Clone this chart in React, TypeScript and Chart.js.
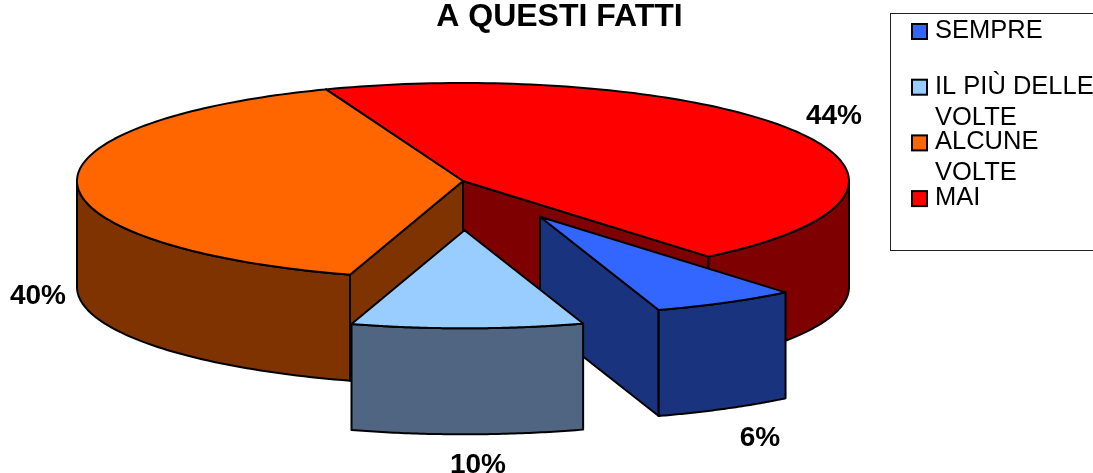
import React, { useEffect, useRef } from "react";
import { Chart, registerables } from "chart.js";

Chart.register(...registerables);

const categories = ["SEMPRE", "IL PIÙ DELLE VOLTE", "ALCUNE VOLTE", "MAI"];
const legendLines = [["SEMPRE"], ["IL PIÙ DELLE", "VOLTE"], ["ALCUNE", "VOLTE"], ["MAI"]];
const values = [6.0, 9.7, 39.5, 44.8];
const percentLabels = ["6%", "10%", "40%", "44%"];
const topColors = ["#3366FF", "#99CCFF", "#FF6600", "#FF0000"];
const sideColors = ["#19337F", "#4F6582", "#7F3300", "#7F0000"];
const sliceOffsets = [180, 218, 0, 0];
const drawOrder = [3, 2, 0, 1];
const titleText = "A QUESTI FATTI";
const labelPositions = [
  [760, 438],
  [478, 465],
  [38, 296],
  [834, 116],
];
const FONT = '"Liberation Sans", Arial, sans-serif';
const PIE = { cx: 463, cy: 181, rx: 386, ry: 98, depth: 106 };
const LEGEND = { x: 890, y: 13, w: 210, h: 237, box: 15, boxX: 912, textX: 935, firstBaseline: 38, itemGap: 55.7, lineGap: 31 };

const pie3d = {
  id: "pie3d",
  beforeDatasetDraw(chart: any, args: any) {
    const ctx = chart.ctx;
    const arcs = chart.getDatasetMeta(args.index).data;
    const at = (el: any, a: number) => {
      const r = el.outerRadius;
      const mid = (el.startAngle + el.endAngle) / 2;
      const off = (el.options.offset || 0) / 4 / r;
      return {
        ox: PIE.cx + PIE.rx * off * Math.cos(mid),
        oy: PIE.cy + PIE.ry * off * Math.sin(mid),
        x: PIE.cx + PIE.rx * off * Math.cos(mid) + PIE.rx * Math.cos(a),
        y: PIE.cy + PIE.ry * off * Math.sin(mid) + PIE.ry * Math.sin(a),
      };
    };
    ctx.save();
    ctx.lineJoin = "round";
    ctx.lineWidth = 2;
    ctx.strokeStyle = "#000";
    const paint = (fill: string) => {
      ctx.closePath();
      ctx.fillStyle = fill;
      ctx.fill();
      ctx.stroke();
    };
    const wall = (el: any, a: number, fill: string) => {
      const p = at(el, a);
      ctx.beginPath();
      ctx.moveTo(p.ox, p.oy);
      ctx.lineTo(p.x, p.y);
      ctx.lineTo(p.x, p.y + PIE.depth);
      ctx.lineTo(p.ox, p.oy + PIE.depth);
      paint(fill);
    };
    for (const i of drawOrder) {
      const el = arcs[i];
      const a0 = el.startAngle;
      const a1 = el.endAngle;
      if (-Math.cos(a0) > 0) wall(el, a0, sideColors[i]);
      if (Math.cos(a1) > 0) wall(el, a1, sideColors[i]);
      for (let k = -1; k <= 1; k++) {
        const s = Math.max(a0, 2 * Math.PI * k);
        const e = Math.min(a1, Math.PI + 2 * Math.PI * k);
        if (e <= s) continue;
        ctx.beginPath();
        const n = 60;
        for (let t = 0; t <= n; t++) {
          const p = at(el, s + ((e - s) * t) / n);
          if (t === 0) ctx.moveTo(p.x, p.y);
          else ctx.lineTo(p.x, p.y);
        }
        for (let t = n; t >= 0; t--) {
          const p = at(el, s + ((e - s) * t) / n);
          ctx.lineTo(p.x, p.y + PIE.depth);
        }
        paint(sideColors[i]);
      }
      const c = at(el, a0);
      ctx.beginPath();
      ctx.moveTo(c.ox, c.oy);
      const n = 120;
      for (let t = 0; t <= n; t++) {
        const p = at(el, a0 + ((a1 - a0) * t) / n);
        ctx.lineTo(p.x, p.y);
      }
      paint(topColors[i]);
    }
    ctx.restore();
    return false;
  },
  afterDraw(chart: any) {
    const ctx = chart.ctx;
    ctx.save();
    ctx.fillStyle = "#000";
    ctx.textAlign = "center";
    ctx.textBaseline = "middle";
    ctx.font = `bold 28px ${FONT}`;
    percentLabels.forEach((text, i) => {
      ctx.fillText(text, labelPositions[i][0], labelPositions[i][1]);
    });
    ctx.strokeStyle = "#222";
    ctx.lineWidth = 1;
    ctx.strokeRect(LEGEND.x + 0.5, LEGEND.y + 0.5, LEGEND.w, LEGEND.h);
    ctx.textAlign = "left";
    ctx.textBaseline = "alphabetic";
    ctx.font = `25.5px ${FONT}`;
    legendLines.forEach((lines, i) => {
      const base = LEGEND.firstBaseline + i * LEGEND.itemGap;
      ctx.fillStyle = topColors[i];
      ctx.lineWidth = 2;
      ctx.strokeStyle = "#000";
      ctx.fillRect(LEGEND.boxX, base - 14, LEGEND.box, LEGEND.box);
      ctx.strokeRect(LEGEND.boxX, base - 14, LEGEND.box, LEGEND.box);
      ctx.fillStyle = "#000";
      lines.forEach((line, j) => ctx.fillText(line, LEGEND.textX, base + j * LEGEND.lineGap));
    });
    ctx.restore();
  },
};

export default function App() {
  const ref = useRef<HTMLCanvasElement>(null);
  useEffect(() => {
    const chart = new Chart(ref.current as HTMLCanvasElement, {
      type: "pie",
      data: {
        labels: categories,
        datasets: [{ data: values, backgroundColor: topColors, offset: sliceOffsets, borderWidth: 0 }],
      },
      options: {
        responsive: false,
        animation: false,
        events: [],
        rotation: 140.5,
        layout: { padding: { left: 26 } },
        plugins: {
          legend: { display: false },
          tooltip: { enabled: false },
          title: {
            display: true,
            text: titleText,
            fullSize: false,
            color: "#000",
            font: { family: FONT, size: 32, weight: "bold" },
            padding: { top: -2, bottom: 2 },
          },
        },
      },
      plugins: [pie3d],
    } as any);
    return () => chart.destroy();
  }, []);
  return (
    <div style={{ position: "fixed", left: 0, top: 0, width: 1093, height: 473, background: "#fff" }}>
      <canvas ref={ref} width={1093} height={473} style={{ display: "block" }} />
    </div>
  );
}
